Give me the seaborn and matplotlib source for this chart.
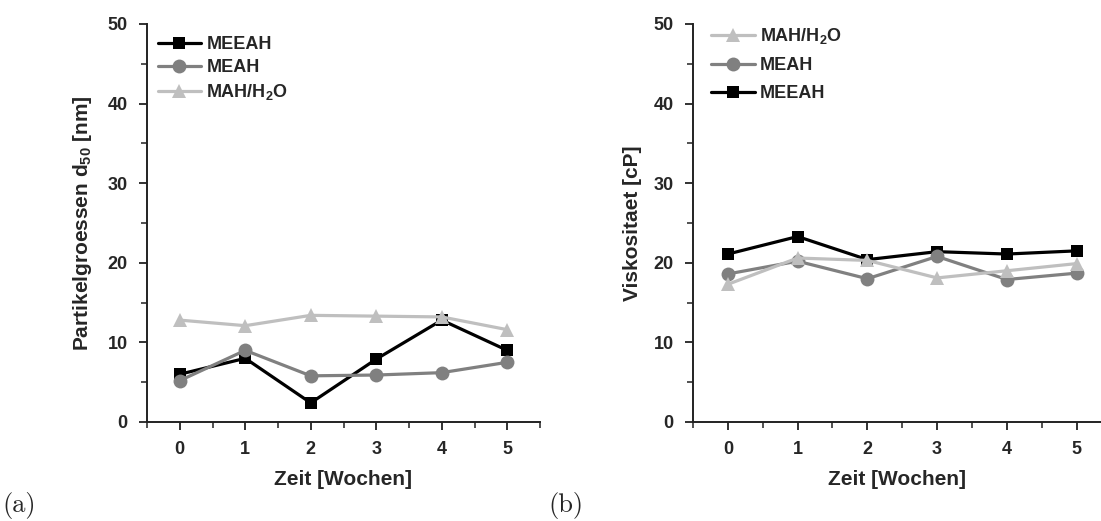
import numpy as np
import pandas as pd
import matplotlib
matplotlib.use("Agg")
import matplotlib.pyplot as plt
import seaborn as sns
from matplotlib.ticker import MultipleLocator

# ---- data ----
weeks = [0, 1, 2, 3, 4, 5]
series_names = ["MEEAH", "MEAH", "MAH/H$_2$O"]

size_meeah = [6.0, 8.0, 2.4, 7.9, 12.8, 9.0]
size_meah = [5.2, 9.0, 5.8, 5.9, 6.2, 7.5]
size_mah = [12.8, 12.1, 13.4, 13.3, 13.2, 11.6]

visc_meeah = [21.1, 23.3, 20.4, 21.4, 21.1, 21.5]
visc_meah = [18.6, 20.2, 18.0, 20.8, 17.9, 18.7]
visc_mah = [17.3, 20.6, 20.3, 18.1, 19.0, 19.9]

xlabel = "Zeit [Wochen]"
ylabel_a = "Partikelgroessen d$_{50}$ [nm]"
ylabel_b = "Viskositaet [cP]"

colors = {"MEEAH": "#000000", "MEAH": "#808080", "MAH/H$_2$O": "#bfbfbf"}
markers = {"MEEAH": "s", "MEAH": "o", "MAH/H$_2$O": "^"}
msizes = {"s": 9, "o": 10, "^": 10}


def long_df(a, b, c):
    rows = []
    for name, vals in zip(series_names, [a, b, c]):
        for w, v in zip(weeks, vals):
            rows.append({"Zeit": w, "Wert": v, "Serie": name})
    return pd.DataFrame(rows)


df_a = long_df(size_meeah, size_meah, size_mah)
df_b = long_df(visc_meeah, visc_meah, visc_mah)

sns.set_style("ticks")
plt.rcParams["font.family"] = ["Liberation Sans", "DejaVu Sans"]
plt.rcParams["font.weight"] = "bold"
plt.rcParams["mathtext.fontset"] = "custom"
plt.rcParams["mathtext.rm"] = "Liberation Sans:bold"
plt.rcParams["mathtext.it"] = "Liberation Sans:bold"
plt.rcParams["mathtext.bf"] = "Liberation Sans:bold"

fig = plt.figure(figsize=(11.01, 5.21), dpi=100)
W, H = 1101, 521
ax_a = fig.add_axes([147 / W, 1 - 422 / H, (540 - 147) / W, (422 - 24) / H])
ax_b = fig.add_axes([693 / W, 1 - 422 / H, (1101 - 693) / W, (422 - 24) / H])


def draw(ax, df, xlim, ylabel, order, leg_anchor, lspacing, ylpad):
    sns.lineplot(data=df, x="Zeit", y="Wert", hue="Serie", style="Serie",
                 hue_order=series_names, style_order=series_names,
                 palette=colors, markers=markers, dashes=False,
                 linewidth=2.3, markersize=9, markeredgewidth=0,
                 ax=ax, legend=True)
    for ln in ax.get_lines():
        m = ln.get_marker()
        if m in msizes:
            ln.set_markersize(msizes[m])
    ax.set_xlim(*xlim)
    ax.set_ylim(0, 50)
    ax.xaxis.set_major_locator(MultipleLocator(1))
    ax.xaxis.set_minor_locator(MultipleLocator(0.5))
    ax.yaxis.set_major_locator(MultipleLocator(10))
    ax.yaxis.set_minor_locator(MultipleLocator(5))
    ax.tick_params(which="major", direction="out", length=6, width=1.3,
                   labelsize=13, color="#222222", pad=8)
    ax.tick_params(which="minor", direction="out", length=4, width=1.1,
                   color="#222222")
    for lab in ax.get_xticklabels() + ax.get_yticklabels():
        lab.set_fontweight("bold")
    for s in ["top", "right"]:
        ax.spines[s].set_visible(False)
    for s in ["left", "bottom"]:
        ax.spines[s].set_linewidth(1.4)
        ax.spines[s].set_color("#222222")
    ax.set_xlabel(xlabel, fontsize=15, fontweight="bold", labelpad=8)
    ax.set_ylabel(ylabel, fontsize=15, fontweight="bold", labelpad=ylpad)
    handles, labels = ax.get_legend_handles_labels()
    hmap = dict(zip(labels, handles))
    hs = [hmap[k] for k in order]
    for h in hs:
        m = h.get_marker()
        if m in msizes:
            h.set_markersize(msizes[m])
    leg = ax.legend(hs, order, loc="upper left",
                    bbox_to_anchor=leg_anchor, frameon=False, fontsize=13,
                    handlelength=2.4, handletextpad=0.3, labelspacing=lspacing,
                    borderaxespad=0, borderpad=0)
    for t in leg.get_texts():
        t.set_fontweight("bold")


draw(ax_a, df_a, (-0.5, 5.5), ylabel_a, ["MEEAH", "MEAH", "MAH/H$_2$O"],
     (0.027, 0.97), 0.33, 10)
draw(ax_b, df_b, (-0.5, 5.35), ylabel_b, ["MAH/H$_2$O", "MEAH", "MEEAH"],
     (0.045, 0.995), 0.62, 8)

fig.text(2 / W, 1 - 519 / H, "(a)", fontfamily="cmr10", fontsize=19,
         fontweight="normal", va="bottom", ha="left")
fig.text(548 / W, 1 - 519 / H, "(b)", fontfamily="cmr10", fontsize=19,
         fontweight="normal", va="bottom", ha="left")

fig.savefig("out.png", dpi=100)
